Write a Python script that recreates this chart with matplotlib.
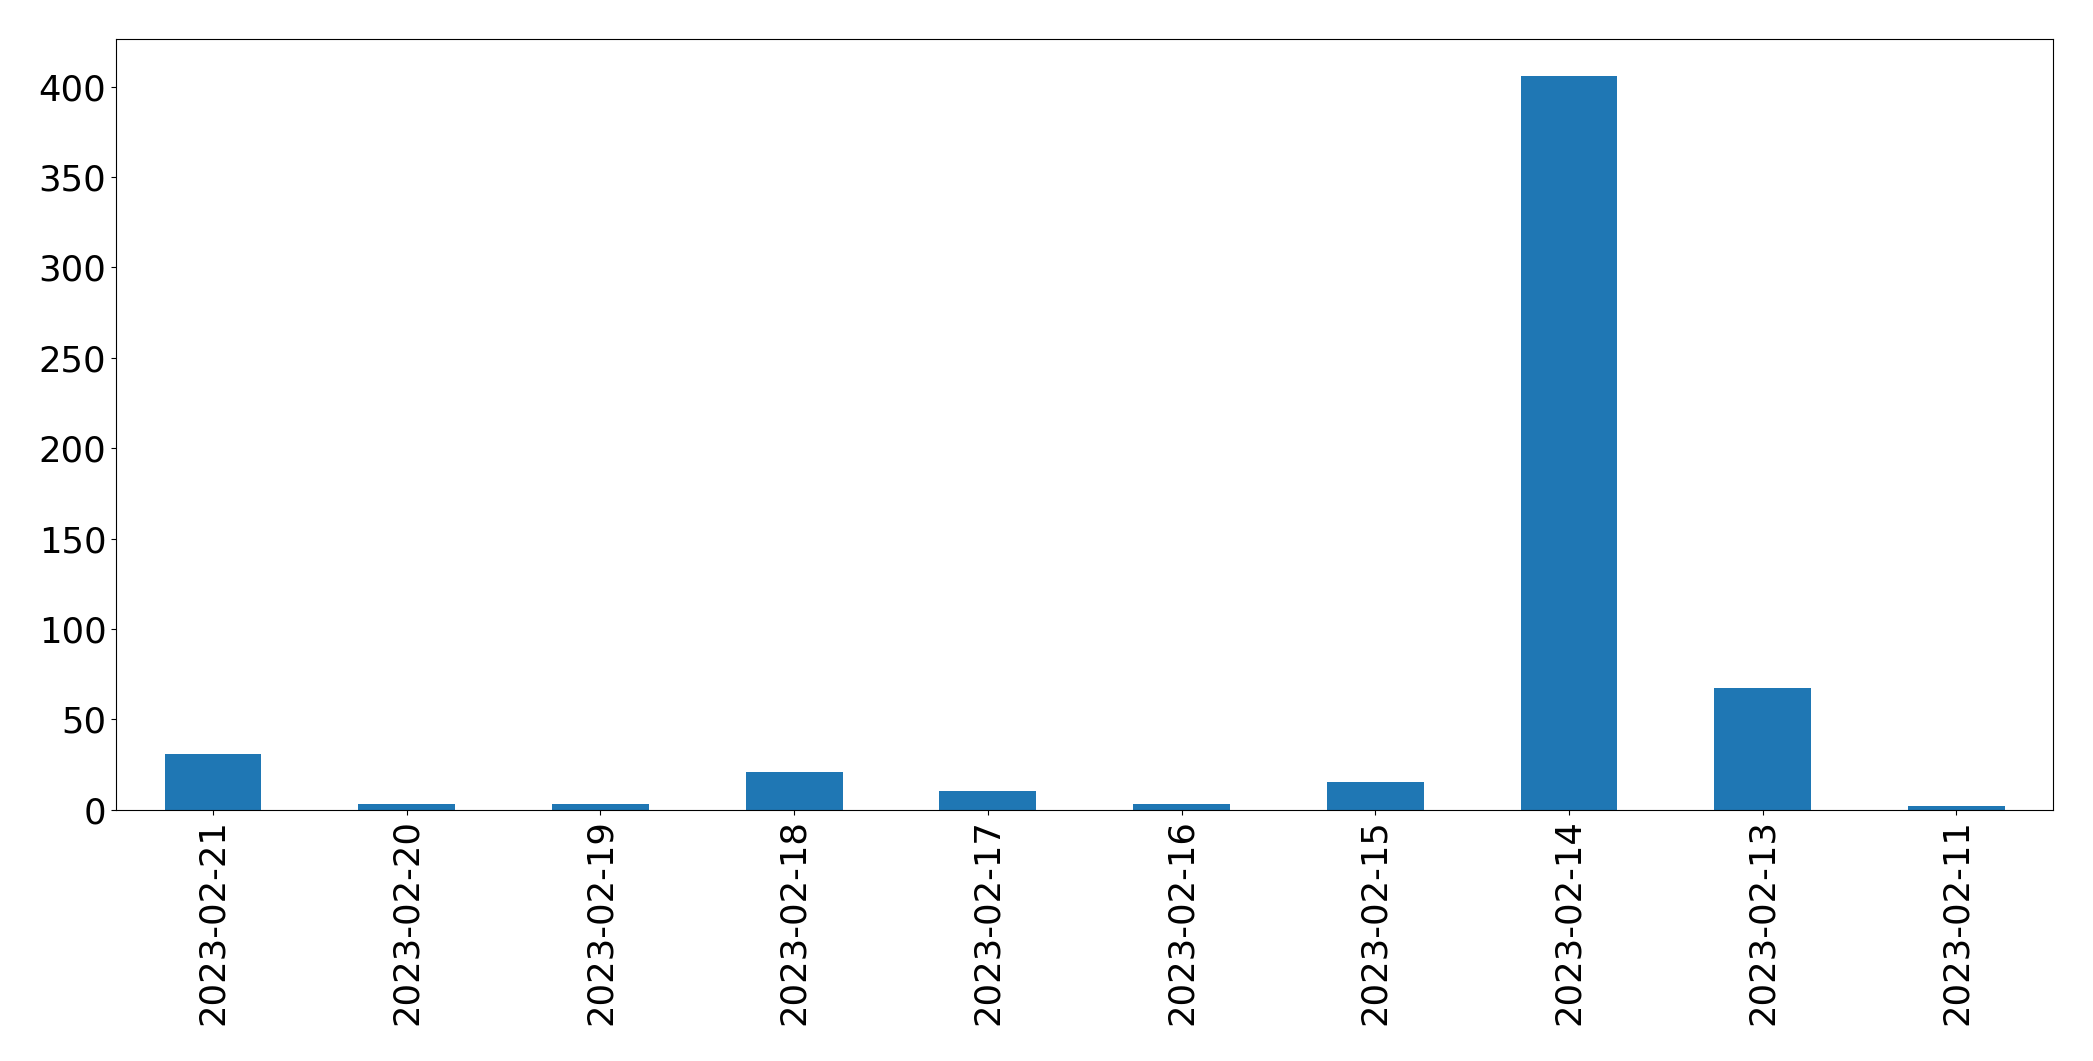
import matplotlib
matplotlib.use("Agg")
import matplotlib.pyplot as plt
import numpy as np

dates = ["2023-02-21", "2023-02-20", "2023-02-19", "2023-02-18", "2023-02-17",
         "2023-02-16", "2023-02-15", "2023-02-14", "2023-02-13", "2023-02-11"]
counts = [31, 3, 3, 21, 10, 3, 15, 406, 67, 2]

fig = plt.figure(figsize=(20.93, 10.61), dpi=100)
ax = fig.add_axes([0.0555, 0.237, 0.9255, 0.726])
x = np.arange(len(dates))
ax.bar(x, counts, width=0.5, color="#1f77b4")
ax.set_xlim(-0.5, len(dates) - 0.5)
ax.set_xticks(x)
ax.set_xticklabels(dates, rotation=90)
ax.tick_params(labelsize=25.5)
fig.savefig("out.png", dpi=100)
